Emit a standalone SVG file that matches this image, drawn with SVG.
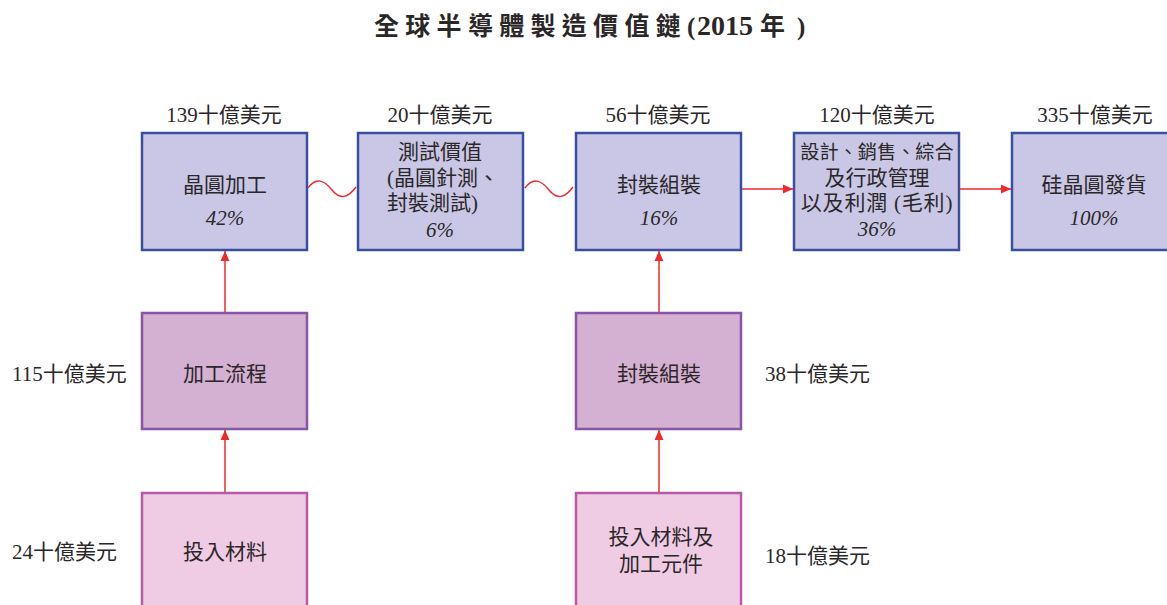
<svg xmlns="http://www.w3.org/2000/svg" width="1167" height="605" viewBox="0 0 1167 605">
<style>
  text { font-family: "Liberation Serif", "Noto Sans CJK TC", serif; fill: #2b2728; font-size: 21px; }
  .c { text-anchor: middle; }
  .pct { font-style: italic; }
  .top { fill: #c9c7e5; stroke: #3b4fa2; stroke-width: 2.5; }
  .mid { fill: #d4b0d2; stroke: #8a55a5; stroke-width: 2.5; }
  .bot { fill: #efcce4; stroke: #b85aa8; stroke-width: 2.5; }
  .conn { stroke: #ee2a2e; stroke-width: 1.5; fill: none; }
  .title { font-weight: bold; font-size: 25px; }
</style>
<defs>
  <marker id="ah" markerUnits="userSpaceOnUse" markerWidth="10" markerHeight="10" viewBox="0 0 10 10" refX="10" refY="5" orient="auto">
    <path d="M0,0.5 L10,5 L0,9.5 Z" fill="#ee2a2e"/>
  </marker>
</defs>
<rect width="1167" height="605" fill="#ffffff"/>

<g id="title">
  <text class="title" x="374" y="35" letter-spacing="6.3">全球半導體製造價值鏈</text>
  <text class="title" x="687" y="35">(</text>
  <text class="title" x="697" y="35" style="font-size:28px">2015</text>
  <text class="title" x="760" y="35">年</text>
  <text class="title" x="797" y="35">)</text>
</g>

<g id="labels">
  <text class="c" x="224" y="122">139十億美元</text>
  <text class="c" x="440" y="122">20十億美元</text>
  <text class="c" x="658" y="122">56十億美元</text>
  <text class="c" x="877" y="122">120十億美元</text>
  <text class="c" x="1095" y="122">335十億美元</text>
  <text x="12" y="381">115十億美元</text>
  <text x="12" y="559">24十億美元</text>
  <text x="765" y="381">38十億美元</text>
  <text x="765" y="563">18十億美元</text>
</g>

<g id="wafer">
  <rect class="top" x="142" y="133" width="165" height="117"/>
  <text class="c" x="225" y="192">晶圓加工</text>
  <text class="c pct" x="225" y="225">42%</text>
</g>
<g id="test">
  <rect class="top" x="358" y="133" width="165" height="117"/>
  <text class="c" x="440" y="159">測試價值</text>
  <text x="387" y="185">(晶圓針測、</text>
  <text x="387" y="210">封裝測試)</text>
  <text class="c pct" x="440" y="237">6%</text>
</g>
<g id="package">
  <rect class="top" x="576" y="133" width="165" height="117"/>
  <text class="c" x="659" y="192">封裝組裝</text>
  <text class="c pct" x="659" y="225">16%</text>
</g>
<g id="design">
  <rect class="top" x="794" y="133" width="165" height="117"/>
  <text class="c" x="877" y="159" style="font-size:19.2px">設計、銷售、綜合</text>
  <text class="c" x="877" y="185">及行政管理</text>
  <text class="c" x="877" y="210" letter-spacing="0.8">以及利潤 (毛利)</text>
  <text class="c pct" x="877" y="236">36%</text>
</g>
<g id="shipment">
  <rect class="top" x="1012" y="133" width="165" height="117"/>
  <text class="c" x="1094" y="192">硅晶圓發貨</text>
  <text class="c pct" x="1094" y="225">100%</text>
</g>

<g id="process">
  <rect class="mid" x="142" y="313" width="165" height="116"/>
  <text class="c" x="225" y="381">加工流程</text>
</g>
<g id="assembly">
  <rect class="mid" x="576" y="313" width="165" height="116"/>
  <text class="c" x="659" y="381">封裝組裝</text>
</g>
<g id="materials">
  <rect class="bot" x="142" y="493" width="165" height="130"/>
  <text class="c" x="225" y="559">投入材料</text>
</g>
<g id="materials2">
  <rect class="bot" x="576" y="493" width="165" height="130"/>
  <text class="c" x="661" y="544">投入材料及</text>
  <text class="c" x="661" y="571">加工元件</text>
</g>

<g id="connectors">
  <path class="conn" d="M308,188 C316,177 324,180 332,190 C340,200 348,198 356,187"/>
  <path class="conn" d="M525,188 C533,177 541,180 549,190 C557,200 565,198 573,187"/>
  <line class="conn" x1="742" y1="189" x2="793" y2="189" marker-end="url(#ah)"/>
  <line class="conn" x1="960" y1="189" x2="1011" y2="189" marker-end="url(#ah)"/>
  <line class="conn" x1="225" y1="312" x2="225" y2="251" marker-end="url(#ah)"/>
  <line class="conn" x1="225" y1="492" x2="225" y2="430" marker-end="url(#ah)"/>
  <line class="conn" x1="659" y1="312" x2="659" y2="251" marker-end="url(#ah)"/>
  <line class="conn" x1="659" y1="492" x2="659" y2="430" marker-end="url(#ah)"/>
</g>
</svg>
